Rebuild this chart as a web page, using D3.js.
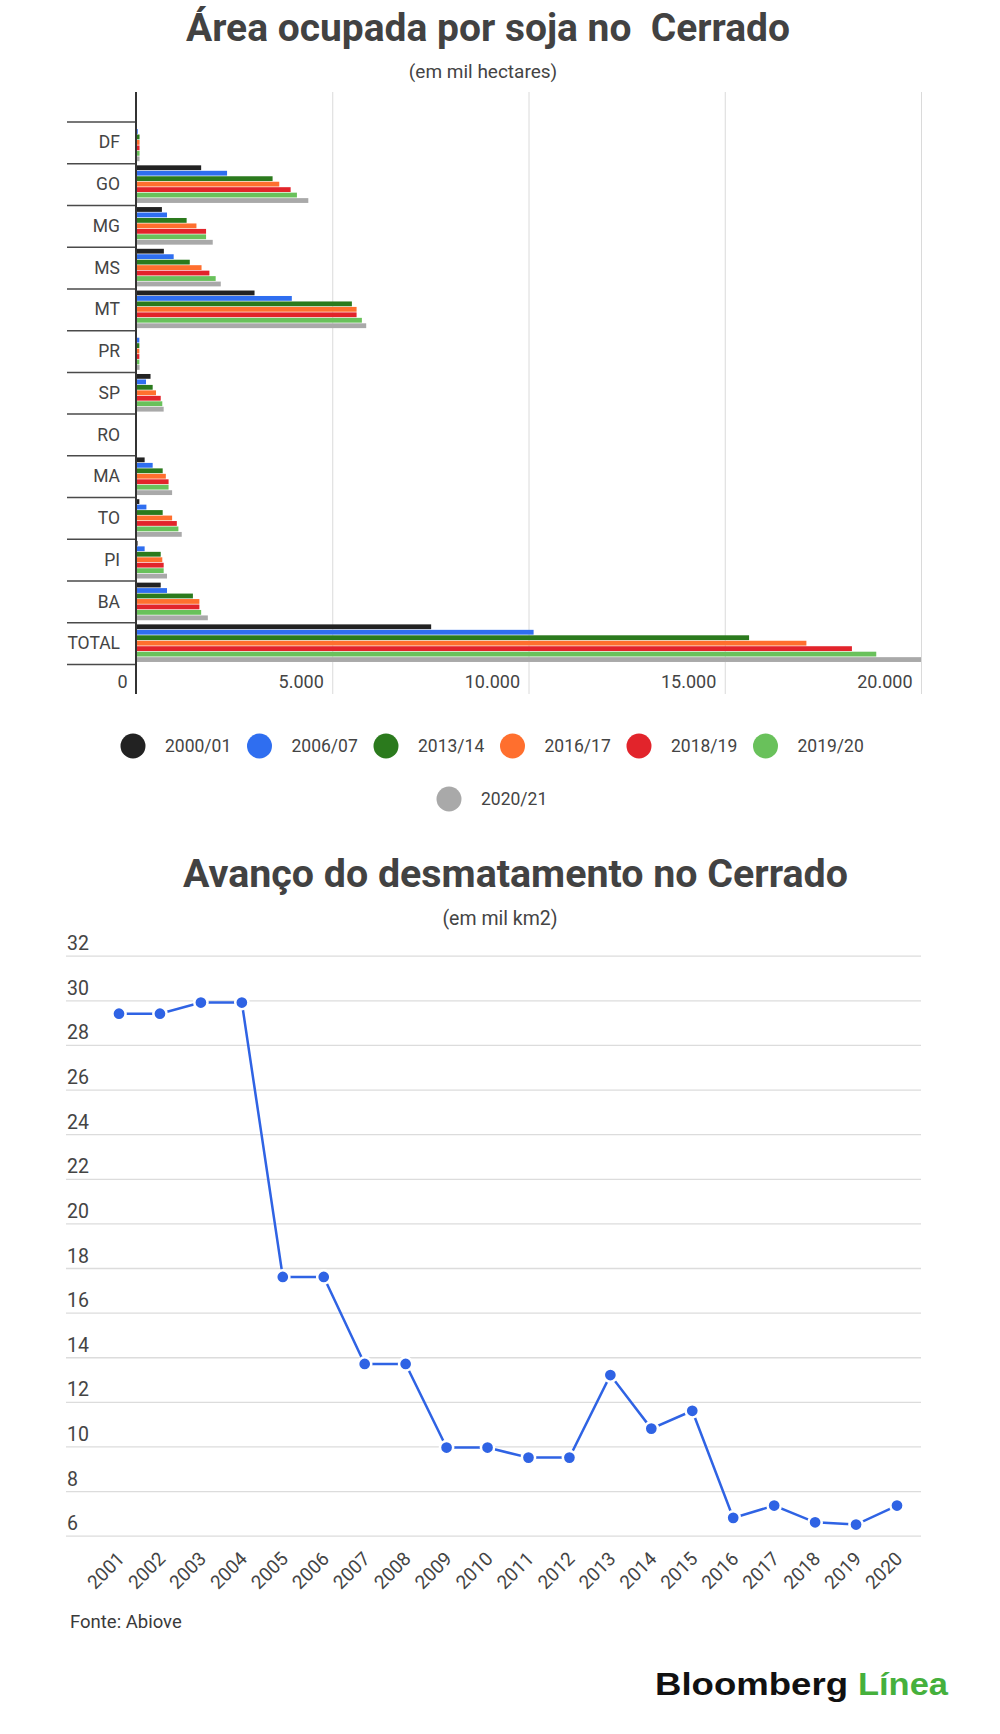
<!DOCTYPE html>
<html>
<head>
<meta charset="utf-8">
<script src="https://cdn.jsdelivr.net/npm/d3@7"></script>
<style>
  body { margin: 0; background: #fff; }
  svg { display: block; font-family: Roboto, "Noto Sans", sans-serif; }
</style>
</head>
<body>
<div id="chart"></div>
<script>
// Area ocupada por soja (mil hectares)
const states = ["DF", "GO", "MG", "MS", "MT", "PR", "SP", "RO", "MA", "TO", "PI", "BA", "TOTAL"];
const seasons = ["2000/01", "2006/07", "2013/14", "2016/17", "2018/19", "2019/20", "2020/21"];
const seasonColors = ["#222222", "#2f6ef0", "#2b7a1d", "#ff6f2e", "#e2242b", "#69c15b", "#a9a9a9"];

const area2000 = [25, 1660, 660, 710, 3020, 25, 370, 0, 220, 85, 40, 630, 7520];
const area2006 = [45, 2320, 790, 960, 3970, 85, 255, 0, 425, 265, 220, 790, 10130];
const area2013 = [90, 3480, 1290, 1370, 5500, 85, 425, 0, 680, 680, 630, 1450, 15620];
const area2016 = [90, 3650, 1540, 1670, 5620, 85, 510, 0, 760, 920, 670, 1615, 17080];
const area2018 = [90, 3940, 1785, 1870, 5620, 85, 630, 0, 830, 1040, 705, 1615, 18240];
const area2019 = [90, 4100, 1785, 2030, 5755, 85, 670, 0, 830, 1080, 705, 1660, 18860];
const area2020 = [90, 4390, 1955, 2160, 5865, 90, 705, 0, 920, 1165, 790, 1830, 20000];
const areaSeries = [area2000, area2006, area2013, area2016, area2018, area2019, area2020];
const areaTicks = [0, 5000, 10000, 15000, 20000];

// Desmatamento no Cerrado (mil km2)
const years = ["2001", "2002", "2003", "2004", "2005", "2006", "2007", "2008", "2009", "2010",
               "2011", "2012", "2013", "2014", "2015", "2016", "2017", "2018", "2019", "2020"];
const deforestation = [29.4, 29.4, 29.9, 29.9, 17.6, 17.6, 13.7, 13.7, 9.95, 9.95,
                       9.5, 9.5, 13.2, 10.8, 11.6, 6.8, 7.35, 6.6, 6.5, 7.35];
const deforTicks = [6, 8, 10, 12, 14, 16, 18, 20, 22, 24, 26, 28, 30, 32];

const W = 1000, H = 1734;
const textColor = "#444";
const ptBR = d3.formatLocale({ decimal: ",", thousands: ".", grouping: [3], currency: ["R$", ""] });

const svg = d3.select("#chart").append("svg")
    .attr("width", W)
    .attr("height", H);

svg.append("rect").attr("width", W).attr("height", H).attr("fill", "#fff");

// ---------- chart 1: horizontal grouped bars ----------
svg.append("text")
    .attr("x", 488).attr("y", 41)
    .attr("text-anchor", "middle")
    .attr("font-size", 38).attr("font-weight", "bold")
    .attr("fill", "#424242")
    .style("white-space", "pre")
    .attr("textLength", 604).attr("lengthAdjust", "spacingAndGlyphs")
    .text("Área ocupada por soja no  Cerrado");

svg.append("text")
    .attr("x", 483).attr("y", 78)
    .attr("text-anchor", "middle")
    .attr("font-size", 19)
    .attr("fill", textColor)
    .text("(em mil hectares)");

const x = d3.scaleLinear().domain([0, 20000]).range([136, 921]);
const rows = d3.scaleBand().domain(states).range([122, 664.5]);
const inner = d3.scaleBand().domain(seasons).range([1.6, 39.2]).paddingInner(0.12);

// vertical gridlines + tick labels
const xAxis = svg.append("g")
    .attr("transform", "translate(0,694)")
    .call(d3.axisBottom(x).tickValues(areaTicks).tickSize(-602)
        .tickFormat(d => ptBR.format(",")(d)));
xAxis.select(".domain").remove();
xAxis.selectAll(".tick line").attr("stroke", "#dadada").attr("stroke-width", 1);
xAxis.selectAll(".tick:first-of-type line").remove();
xAxis.selectAll(".tick text")
    .attr("text-anchor", "end")
    .attr("x", -9).attr("y", -6).attr("dy", 0)
    .attr("font-size", 18).attr("fill", textColor)
    .attr("font-family", "Roboto");

// bars
const groups = svg.append("g").selectAll("g")
    .data(states)
    .join("g")
    .attr("transform", d => `translate(0,${rows(d)})`);

groups.selectAll("rect")
    .data((d, i) => seasons.map((s, j) => ({ season: s, j: j, value: areaSeries[j][i] })))
    .join("rect")
    .attr("x", x(0))
    .attr("y", d => inner(d.season))
    .attr("width", d => x(d.value) - x(0))
    .attr("height", inner.bandwidth())
    .attr("fill", d => seasonColors[d.j]);

// category labels
const yAxis = svg.append("g")
    .attr("transform", "translate(120,0)")
    .call(d3.axisLeft(rows).tickSize(0).tickPadding(0));
yAxis.select(".domain").remove();
yAxis.selectAll(".tick text")
    .attr("font-size", 17.5).attr("fill", textColor)
    .attr("font-family", "Roboto");

// row separators
svg.append("g").selectAll("line")
    .data(states.concat(["end"]))
    .join("line")
    .attr("x1", 67).attr("x2", 136)
    .attr("y1", d => d === "end" ? rows.range()[1] : rows(d))
    .attr("y2", d => d === "end" ? rows.range()[1] : rows(d))
    .attr("stroke", "#4a4a4a").attr("stroke-width", 1.5);

// zero axis line
svg.append("line")
    .attr("x1", x(0)).attr("x2", x(0))
    .attr("y1", 92).attr("y2", 694)
    .attr("stroke", "#333").attr("stroke-width", 2);

// legend
const legend = svg.append("g").selectAll("g")
    .data(seasons)
    .join("g")
    .attr("transform", (d, i) => i < 6 ? `translate(${133 + i * 126.5},746)` : "translate(449,799)");
legend.append("circle").attr("r", 12.5).attr("fill", (d, i) => seasonColors[i]);
legend.append("text")
    .attr("x", 32).attr("dy", "0.35em")
    .attr("font-size", 17.5).attr("fill", textColor)
    .text(d => d);

// ---------- chart 2: line ----------
svg.append("text")
    .attr("x", 515.5).attr("y", 887)
    .attr("text-anchor", "middle")
    .attr("font-size", 38).attr("font-weight", "bold")
    .attr("fill", "#424242")
    .attr("textLength", 665).attr("lengthAdjust", "spacingAndGlyphs")
    .text("Avanço do desmatamento no Cerrado");

svg.append("text")
    .attr("x", 500).attr("y", 925)
    .attr("text-anchor", "middle")
    .attr("font-size", 19.5)
    .attr("fill", textColor)
    .text("(em mil km2)");

const px = d3.scalePoint().domain(years).range([119, 897]);
const py = d3.scaleLinear().domain([6, 32]).range([1535.7, 955.7]);

const gridY = svg.append("g")
    .attr("transform", "translate(66,0)")
    .call(d3.axisRight(py).tickValues(deforTicks).tickSize(855));
gridY.select(".domain").remove();
gridY.selectAll(".tick line").attr("stroke", "#dcdcdc").attr("stroke-width", 1.3);
gridY.selectAll(".tick text")
    .attr("x", 1).attr("y", -6).attr("dy", 0)
    .attr("text-anchor", "start")
    .attr("font-size", 19.5).attr("fill", textColor)
    .attr("font-family", "Roboto");

const lineColor = "#2f63e4";
svg.append("path")
    .datum(deforestation)
    .attr("fill", "none")
    .attr("stroke", lineColor)
    .attr("stroke-width", 2.5)
    .attr("d", d3.line().x((d, i) => px(years[i])).y(d => py(d)));

svg.append("g").selectAll("circle")
    .data(deforestation)
    .join("circle")
    .attr("cx", (d, i) => px(years[i]))
    .attr("cy", d => py(d))
    .attr("r", 6.6)
    .attr("fill", lineColor)
    .attr("stroke", "#fff").attr("stroke-width", 2.5);

const xYears = svg.append("g")
    .attr("transform", "translate(0,1560)")
    .call(d3.axisBottom(px).tickSize(0).tickPadding(0));
xYears.select(".domain").remove();
xYears.selectAll(".tick text")
    .attr("text-anchor", "end")
    .attr("y", 0).attr("dy", 0)
    .attr("transform", "translate(6,0) rotate(-45)")
    .attr("font-size", 19).attr("fill", textColor)
    .attr("font-family", "Roboto");

svg.append("text")
    .attr("x", 70).attr("y", 1628)
    .attr("font-size", 18.5).attr("fill", "#3a3a3a")
    .text("Fonte: Abiove");

// logo
svg.append("text")
    .attr("x", 655).attr("y", 1695)
    .attr("font-family", "'Liberation Sans', Arial, sans-serif")
    .attr("font-size", 32).attr("font-weight", "bold")
    .attr("fill", "#111")
    .attr("textLength", 193).attr("lengthAdjust", "spacingAndGlyphs")
    .text("Bloomberg");
svg.append("text")
    .attr("x", 858).attr("y", 1695)
    .attr("font-family", "'Liberation Sans', Arial, sans-serif")
    .attr("font-size", 32).attr("font-weight", "bold")
    .attr("fill", "#45b03c")
    .attr("textLength", 90).attr("lengthAdjust", "spacingAndGlyphs")
    .text("Línea");
</script>
</body>
</html>
